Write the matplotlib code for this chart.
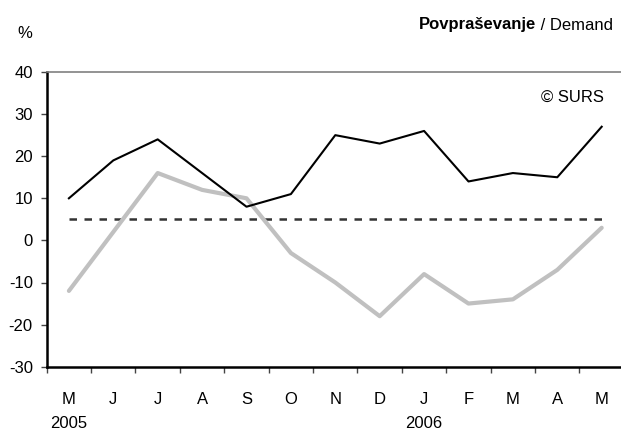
import matplotlib
matplotlib.use('Agg')
import matplotlib.pyplot as plt
import matplotlib.transforms as mtransforms
import numpy as np

plt.rcParams['font.family'] = ['Liberation Sans', 'DejaVu Sans']
plt.rcParams['axes.unicode_minus'] = False

# 数据
months = ['M', 'J', 'J', 'A', 'S', 'O', 'N', 'D', 'J', 'F', 'M', 'A', 'M']
years = {0: '2005', 8: '2006'}
black_series = [10, 19, 24, 16, 8, 11, 25, 23, 26, 14, 16, 15, 27]
gray_series = [-12, 2, 16, 12, 10, -3, -10, -18, -8, -15, -14, -7, 3]
dashed_level = 5

fig = plt.figure(figsize=(6.21, 4.32), dpi=100)
ax = fig.add_axes([46.7 / 621, 65.3 / 432, 574.3 / 621, 294.7 / 432])

x = np.arange(len(months))
ax.plot(x, gray_series, color='#c0c0c0', lw=3.0, solid_capstyle='round', zorder=2)
ax.plot(x, black_series, color='black', lw=1.5, zorder=3)
ax.plot([x[0], x[-1]], [dashed_level, dashed_level], color='#333333', lw=1.8,
        dashes=(3, 3), zorder=1)

ax.set_xlim(-0.5, 12.435)
ax.set_ylim(-30, 40)
ax.set_yticks(range(-30, 41, 10))

# 刻度在类别边界，标签在中间
ax.set_xticks(np.arange(-0.5, 12.5, 1))
ax.set_xticklabels([])
ax.set_xticks(x, minor=True)
ax.set_xticklabels(months, minor=True)
ax.tick_params(axis='x', which='major', direction='out', length=4, width=1, color='#444444')
ax.tick_params(axis='x', which='minor', length=0, pad=18, labelsize=12)
ax.tick_params(axis='y', direction='out', length=4, width=1, color='#444444', labelsize=12, pad=6)

ax.spines['right'].set_visible(False)
ax.spines['top'].set_color('#808080')
ax.spines['top'].set_linewidth(1.2)
ax.spines['left'].set_linewidth(1.8)
ax.spines['bottom'].set_linewidth(1.8)

trans = mtransforms.blended_transform_factory(ax.transData, fig.transFigure)
for i, y in years.items():
    ax.text(i, 1 - 423 / 432, y, transform=trans, ha='center', va='center', fontsize=12)

fig.text(25 / 621, 1 - 33 / 432, '%', ha='center', va='center', fontsize=12)
t1 = fig.text(613 / 621, 1 - 25 / 432, ' / Demand', ha='right', va='center', fontsize=12)
fig.canvas.draw()
bb = t1.get_window_extent()
fig.text(bb.x0 / fig.bbox.width, 1 - 25 / 432, 'Povpraševanje', ha='right', va='center',
         fontsize=12, fontweight='bold')
fig.text(604 / 621, 1 - 97 / 432, '© SURS', ha='right', va='center', fontsize=12)

fig.savefig('out.png', dpi=100)
